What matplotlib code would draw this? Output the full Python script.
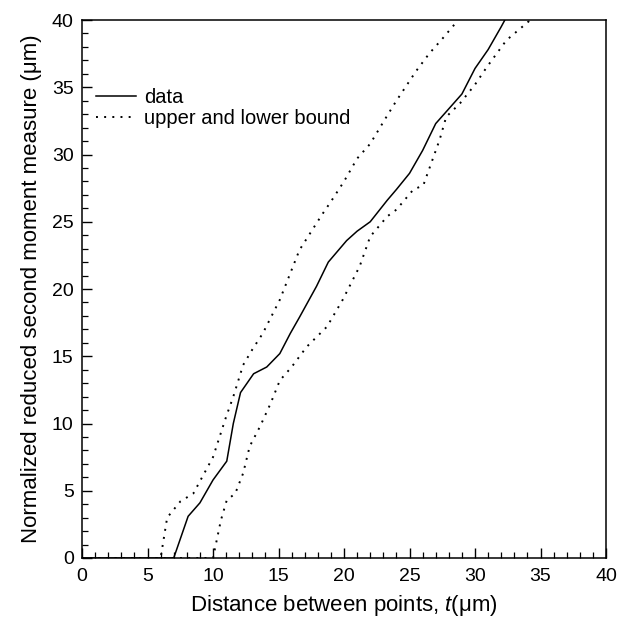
import matplotlib
matplotlib.use("Agg")
import matplotlib.pyplot as plt
from matplotlib.ticker import MultipleLocator

plt.rcParams['font.family'] = ['Liberation Sans', 'DejaVu Sans']
plt.rcParams['mathtext.fontset'] = 'custom'
plt.rcParams['mathtext.rm'] = 'Liberation Sans'
plt.rcParams['mathtext.it'] = 'Liberation Sans:italic'

data_t = [0, 7.0, 8.1, 9.0, 10.0, 11.05, 11.55, 12.1, 13.1, 14.1, 15.1, 15.9, 16.6,
          17.9, 18.8, 20.2, 21.0, 22.0, 23.3, 24.0, 25.0, 26.0, 27.0, 28.0, 29.0,
          30.0, 31.0, 32.0, 32.5]
data_m = [0, 0, 3.1, 4.1, 5.8, 7.2, 10.0, 12.3, 13.7, 14.2, 15.2, 16.7, 17.9,
          20.2, 22.0, 23.6, 24.3, 25.0, 26.6, 27.4, 28.6, 30.3, 32.3, 33.4, 34.5,
          36.4, 37.8, 39.5, 40.4]

# upper bound
up_t = [0, 6.0, 6.5, 7.5, 8.5, 10.0, 11.0, 11.55, 12.3, 13.0, 13.8, 15.1, 16.6,
        18.3, 19.0, 20.0, 21.0, 22.0, 23.3, 24.0, 25.5, 26.5, 27.5, 28.5, 28.8]
up_m = [0, 0, 3.0, 4.2, 4.8, 7.5, 10.5, 12.0, 14.35, 15.5, 16.7, 19.2, 22.9,
        25.5, 26.5, 28.0, 29.7, 30.8, 32.9, 34.0, 36.2, 37.5, 38.6, 39.75, 40.3]

# lower bound
lo_t = [0, 10.0, 10.6, 11.05, 11.7, 12.3, 12.8, 13.6, 14.4, 15.1, 16.0, 17.15,
        18.7, 19.9, 21.2, 22.0, 23.3, 24.0, 25.3, 26.05, 27.3, 27.8, 28.85, 30.0,
        30.9, 32.4, 34.1, 34.3]
lo_m = [0, 0, 2.8, 4.3, 4.8, 6.3, 8.3, 9.8, 11.5, 13.2, 14.2, 15.7,
        17.2, 19.2, 21.7, 23.9, 25.4, 25.9, 27.4, 27.7, 31.1, 32.8, 33.8, 35.2,
        36.5, 38.5, 39.9, 40.2]

fig = plt.figure(figsize=(6.18, 6.2), dpi=100)
ax = fig.add_axes([0.1327, 0.1, 0.8479, 0.8677])

ax.plot(data_t, data_m, color="black", linewidth=1.1, label="data")
ax.plot(up_t, up_m, color="black", linewidth=1.4, linestyle=(0, (1, 3.2)),
        label="upper and lower bound")
ax.plot(lo_t, lo_m, color="black", linewidth=1.4, linestyle=(0, (1, 3.2)))

ax.set_xlim(0, 40)
ax.set_ylim(0, 40)
ax.xaxis.set_major_locator(MultipleLocator(5))
ax.xaxis.set_minor_locator(MultipleLocator(1))
ax.yaxis.set_major_locator(MultipleLocator(5))
ax.yaxis.set_minor_locator(MultipleLocator(1))
ax.tick_params(which="major", direction="in", length=7, width=1.0, labelsize=14)
ax.tick_params(axis="x", which="major", pad=7)
ax.tick_params(axis="y", which="major", pad=6)
ax.tick_params(which="minor", direction="in", length=4, width=0.9)
for s in ax.spines.values():
    s.set_linewidth(1.1)

ax.set_xlabel("Distance between points, $t$(\u03bcm)", fontsize=16, labelpad=6)
ax.set_ylabel("Normalized reduced second moment measure (\u03bcm)", fontsize=16, labelpad=7)

ax.legend(loc="upper left", bbox_to_anchor=(0.0, 0.90), frameon=False, fontsize=14.5,
          handlelength=2.0, handletextpad=0.4, labelspacing=0.12, borderaxespad=0.3)

fig.savefig("out.png", dpi=100)
